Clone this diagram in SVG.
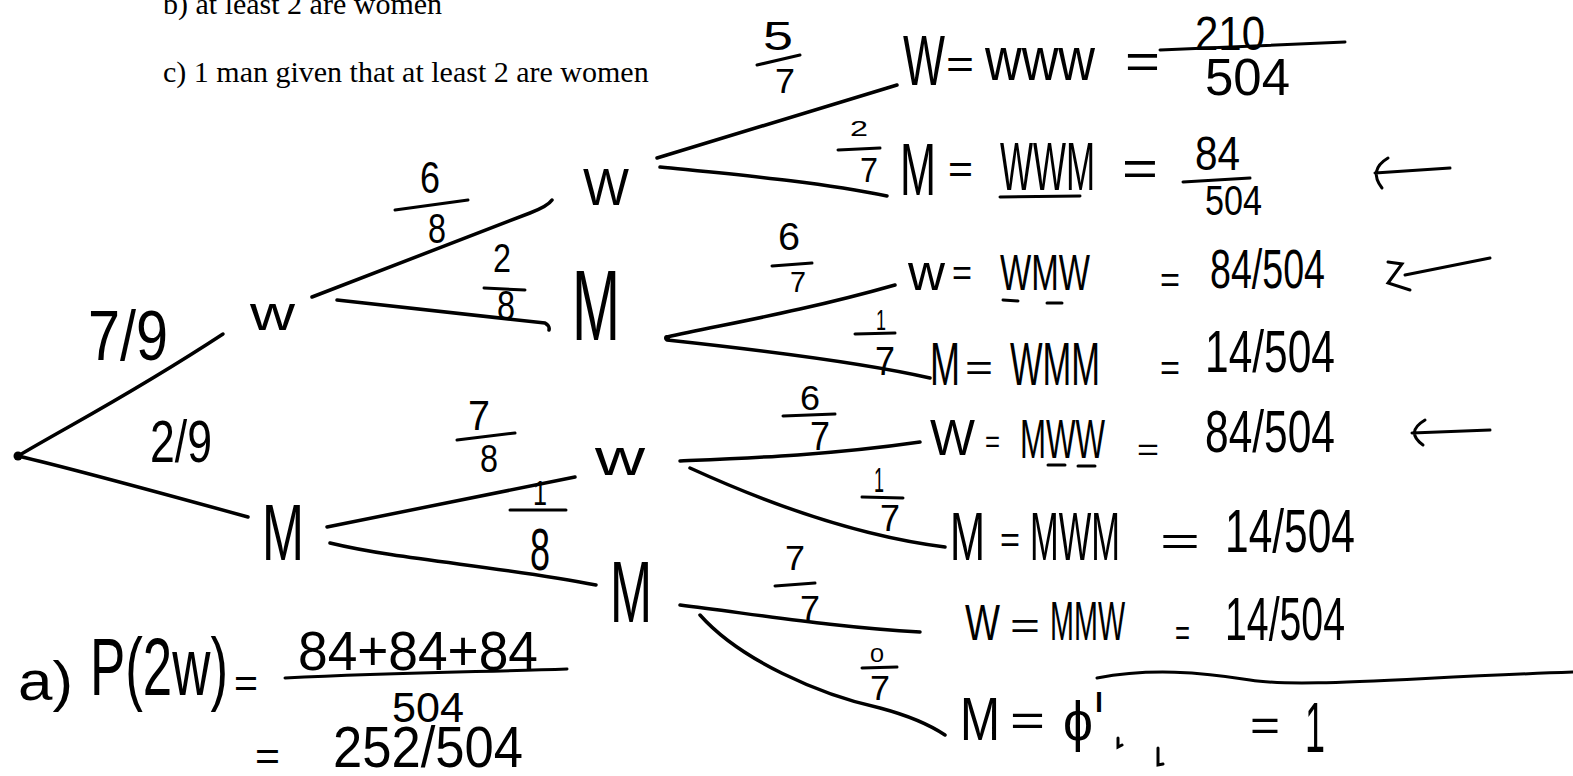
<svg xmlns="http://www.w3.org/2000/svg" width="1573" height="776" viewBox="0 0 1573 776">
<style>
.tx{font-family:"Liberation Serif","Times New Roman",serif;font-size:30px;fill:#000}
.hw{font-family:"Liberation Sans",Arial,sans-serif;fill:#000}
.br{fill:none;stroke:#000;stroke-width:3.5;stroke-linecap:round;stroke-linejoin:round}
.ln{fill:none;stroke:#000;stroke-width:3;stroke-linecap:round}
</style>
<rect width="1573" height="776" fill="#fff"/>
<g id="header">
<text class="tx" x="163" y="14">b) at least 2 are women</text>
<text class="tx" x="163" y="82">c) 1 man given that at least 2 are women</text>
</g>
<g id="connectors">
<path class="br" d="M18 456 C70 425 130 395 223 334"/>
<path class="br" d="M18 456 C70 468 150 490 248 517"/>
<path class="br" d="M312 297 L530 213 Q548 206 552 200"/>
<path class="br" d="M337 300 L545 323 Q550 326 549 330"/>
<path class="br" d="M327 527 L575 477"/>
<path class="br" d="M330 543 C400 560 500 566 596 585"/>
<path class="br" d="M657 158 L897 85"/>
<path class="br" d="M660 167 C740 175 820 182 887 196"/>
<path class="br" d="M667 337 C720 325 800 312 895 285"/>
<path class="br" d="M667 340 C760 350 860 362 930 378"/>
<path class="br" d="M680 461 C750 458 830 455 920 442"/>
<path class="br" d="M690 468 C760 500 850 535 945 547"/>
<path class="br" d="M680 605 C760 615 840 628 920 632"/>
<path class="br" d="M700 615 C740 660 820 695 880 708 C910 716 930 725 945 735"/>
<circle cx="18" cy="456" r="4.5"/>
<circle cx="667" cy="338" r="3"/>
</g>
<g id="label-l1">
<text class="hw" x="88" y="360" font-size="70" textLength="80" lengthAdjust="spacingAndGlyphs">7/9</text>
<text class="hw" x="150" y="462" font-size="60" textLength="62" lengthAdjust="spacingAndGlyphs">2/9</text>
</g>
<g id="node-w1"><text class="hw" x="250" y="330" font-size="48" textLength="45" lengthAdjust="spacingAndGlyphs">w</text></g>
<g id="node-m1"><text class="hw" x="262" y="560" font-size="80" textLength="42" lengthAdjust="spacingAndGlyphs">M</text></g>
<g id="label-l2">
<text class="hw" x="420" y="193" font-size="45" textLength="20" lengthAdjust="spacingAndGlyphs">6</text>
<path class="ln" d="M395 210 L468 200"/>
<text class="hw" x="428" y="243" font-size="42" textLength="18" lengthAdjust="spacingAndGlyphs">8</text>
<text class="hw" x="493" y="272" font-size="40" textLength="18" lengthAdjust="spacingAndGlyphs">2</text>
<path class="ln" d="M484 288 L525 290"/>
<text class="hw" x="497" y="320" font-size="42" textLength="18" lengthAdjust="spacingAndGlyphs">8</text>
<text class="hw" x="468" y="430" font-size="42" textLength="22" lengthAdjust="spacingAndGlyphs">7</text>
<path class="ln" d="M457 440 L515 433"/>
<text class="hw" x="480" y="472" font-size="38" textLength="18" lengthAdjust="spacingAndGlyphs">8</text>
<text class="hw" x="533" y="505" font-size="35" textLength="14" lengthAdjust="spacingAndGlyphs">1</text>
<path class="ln" d="M510 510 L566 510"/>
<text class="hw" x="530" y="570" font-size="60" textLength="20" lengthAdjust="spacingAndGlyphs">8</text>
</g>
<g id="node-w2"><text class="hw" x="583" y="205" font-size="52" textLength="46" lengthAdjust="spacingAndGlyphs">W</text></g>
<g id="node-m2"><text class="hw" x="572" y="340" font-size="100" textLength="48" lengthAdjust="spacingAndGlyphs">M</text></g>
<g id="node-w3"><text class="hw" x="595" y="475" font-size="50" textLength="50" lengthAdjust="spacingAndGlyphs">w</text></g>
<g id="node-m3"><text class="hw" x="610" y="622" font-size="88" textLength="42" lengthAdjust="spacingAndGlyphs">M</text></g>
<g id="label-l3">
<text class="hw" x="763" y="50" font-size="40" textLength="30" lengthAdjust="spacingAndGlyphs">5</text>
<path class="ln" d="M757 65 L800 55"/>
<text class="hw" x="775" y="93" font-size="35" textLength="20" lengthAdjust="spacingAndGlyphs">7</text>
<text class="hw" x="850" y="136" font-size="22" textLength="18" lengthAdjust="spacingAndGlyphs">2</text>
<path class="ln" d="M838 150 L880 148"/>
<text class="hw" x="860" y="182" font-size="35" textLength="18" lengthAdjust="spacingAndGlyphs">7</text>
<text class="hw" x="778" y="250" font-size="38" textLength="22" lengthAdjust="spacingAndGlyphs">6</text>
<path class="ln" d="M772 266 L812 263"/>
<text class="hw" x="790" y="292" font-size="30" textLength="16" lengthAdjust="spacingAndGlyphs">7</text>
<text class="hw" x="876" y="330" font-size="30" textLength="10" lengthAdjust="spacingAndGlyphs">1</text>
<path class="ln" d="M855 334 L895 333"/>
<text class="hw" x="875" y="375" font-size="40" textLength="20" lengthAdjust="spacingAndGlyphs">7</text>
<text class="hw" x="800" y="410" font-size="35" textLength="20" lengthAdjust="spacingAndGlyphs">6</text>
<path class="ln" d="M783 416 L835 414"/>
<text class="hw" x="810" y="450" font-size="40" textLength="20" lengthAdjust="spacingAndGlyphs">7</text>
<text class="hw" x="874" y="492" font-size="35" textLength="10" lengthAdjust="spacingAndGlyphs">1</text>
<path class="ln" d="M862 497 L903 498"/>
<text class="hw" x="880" y="531" font-size="36" textLength="20" lengthAdjust="spacingAndGlyphs">7</text>
<text class="hw" x="785" y="570" font-size="35" textLength="20" lengthAdjust="spacingAndGlyphs">7</text>
<path class="ln" d="M775 586 L815 583"/>
<text class="hw" x="800" y="620" font-size="35" textLength="20" lengthAdjust="spacingAndGlyphs">7</text>
<text class="hw" x="870" y="662" font-size="20" textLength="14" lengthAdjust="spacingAndGlyphs">0</text>
<path class="ln" d="M862 668 L897 667"/>
<text class="hw" x="870" y="700" font-size="35" textLength="20" lengthAdjust="spacingAndGlyphs">7</text>
</g>
<g id="row1">
<text class="hw" x="903" y="85" font-size="70" textLength="42" lengthAdjust="spacingAndGlyphs">W</text>
<text class="hw" x="946" y="78" font-size="40" textLength="28" lengthAdjust="spacingAndGlyphs">=</text>
<text class="hw" x="985" y="80" font-size="62" textLength="110" lengthAdjust="spacingAndGlyphs">www</text>
<text class="hw" x="1125" y="78" font-size="50" textLength="35" lengthAdjust="spacingAndGlyphs">=</text>
<text class="hw" x="1195" y="50" font-size="48" textLength="70" lengthAdjust="spacingAndGlyphs">210</text>
<path class="ln" d="M1160 50 L1345 42"/>
<text class="hw" x="1205" y="95" font-size="52" textLength="85" lengthAdjust="spacingAndGlyphs">504</text>
</g>
<g id="row2">
<text class="hw" x="900" y="195" font-size="75" textLength="36" lengthAdjust="spacingAndGlyphs">M</text>
<text class="hw" x="948" y="183" font-size="40" textLength="25" lengthAdjust="spacingAndGlyphs">=</text>
<text class="hw" x="1000" y="190" font-size="68" textLength="95" lengthAdjust="spacingAndGlyphs">WWM</text>
<path class="ln" d="M1000 197 L1080 196"/>
<text class="hw" x="1122" y="185" font-size="50" textLength="36" lengthAdjust="spacingAndGlyphs">=</text>
<text class="hw" x="1195" y="170" font-size="48" textLength="45" lengthAdjust="spacingAndGlyphs">84</text>
<path class="ln" d="M1183 182 L1250 178"/>
<text class="hw" x="1205" y="215" font-size="42" textLength="57" lengthAdjust="spacingAndGlyphs">504</text>
<path class="ln" d="M1450 168 L1375 173 M1388 158 Q1368 170 1382 188"/>
</g>
<g id="row3">
<text class="hw" x="908" y="290" font-size="50" textLength="37" lengthAdjust="spacingAndGlyphs">w</text>
<text class="hw" x="952" y="285" font-size="36" textLength="20" lengthAdjust="spacingAndGlyphs">=</text>
<text class="hw" x="1000" y="290" font-size="50" textLength="90" lengthAdjust="spacingAndGlyphs">WMW</text>
<path class="ln" d="M1003 300 L1018 301 M1047 303 L1062 303"/>
<text class="hw" x="1160" y="292" font-size="36" textLength="20" lengthAdjust="spacingAndGlyphs">=</text>
<text class="hw" x="1210" y="288" font-size="55" textLength="115" lengthAdjust="spacingAndGlyphs">84/504</text>
<path class="ln" d="M1490 258 L1405 275 M1388 262 L1402 264 L1388 283 L1410 290"/>
</g>
<g id="row4">
<text class="hw" x="930" y="385" font-size="62" textLength="30" lengthAdjust="spacingAndGlyphs">M</text>
<text class="hw" x="965" y="380" font-size="36" textLength="28" lengthAdjust="spacingAndGlyphs">=</text>
<text class="hw" x="1010" y="385" font-size="62" textLength="90" lengthAdjust="spacingAndGlyphs">WMM</text>
<text class="hw" x="1160" y="380" font-size="36" textLength="20" lengthAdjust="spacingAndGlyphs">=</text>
<text class="hw" x="1205" y="372" font-size="60" textLength="130" lengthAdjust="spacingAndGlyphs">14/504</text>
</g>
<g id="row5">
<text class="hw" x="930" y="455" font-size="50" textLength="45" lengthAdjust="spacingAndGlyphs">W</text>
<text class="hw" x="985" y="452" font-size="32" textLength="15" lengthAdjust="spacingAndGlyphs">=</text>
<text class="hw" x="1020" y="458" font-size="55" textLength="85" lengthAdjust="spacingAndGlyphs">MWW</text>
<path class="ln" d="M1048 465 L1065 465 M1078 466 L1095 466"/>
<text class="hw" x="1137" y="460" font-size="32" textLength="22" lengthAdjust="spacingAndGlyphs">=</text>
<text class="hw" x="1205" y="452" font-size="60" textLength="130" lengthAdjust="spacingAndGlyphs">84/504</text>
<path class="ln" d="M1490 430 L1412 433 M1425 420 Q1405 432 1423 445"/>
</g>
<g id="row6">
<text class="hw" x="950" y="560" font-size="68" textLength="35" lengthAdjust="spacingAndGlyphs">M</text>
<text class="hw" x="1000" y="552" font-size="36" textLength="20" lengthAdjust="spacingAndGlyphs">=</text>
<text class="hw" x="1030" y="560" font-size="68" textLength="90" lengthAdjust="spacingAndGlyphs">MWM</text>
<text class="hw" x="1160" y="555" font-size="40" textLength="40" lengthAdjust="spacingAndGlyphs">=</text>
<text class="hw" x="1225" y="552" font-size="62" textLength="130" lengthAdjust="spacingAndGlyphs">14/504</text>
</g>
<g id="row7">
<text class="hw" x="965" y="640" font-size="50" textLength="35" lengthAdjust="spacingAndGlyphs">W</text>
<text class="hw" x="1010" y="638" font-size="36" textLength="30" lengthAdjust="spacingAndGlyphs">=</text>
<text class="hw" x="1050" y="640" font-size="55" textLength="75" lengthAdjust="spacingAndGlyphs">MMW</text>
<text class="hw" x="1175" y="645" font-size="36" textLength="15" lengthAdjust="spacingAndGlyphs">=</text>
<text class="hw" x="1225" y="640" font-size="62" textLength="120" lengthAdjust="spacingAndGlyphs">14/504</text>
</g>
<g id="row8">
<text class="hw" x="960" y="740" font-size="62" textLength="40" lengthAdjust="spacingAndGlyphs">M</text>
<text class="hw" x="1010" y="735" font-size="45" textLength="35" lengthAdjust="spacingAndGlyphs">=</text>
<text class="hw" x="1063" y="740" font-size="55" textLength="30" lengthAdjust="spacingAndGlyphs">ϕ</text>
<text class="hw" x="1094" y="712" font-size="28" textLength="10" lengthAdjust="spacingAndGlyphs">l</text>
<path class="ln" d="M1118 738 L1118 747 L1122 745 M1158 748 L1158 765 L1163 764"/>
<path class="ln" d="M1097 678 C1150 668 1200 672 1250 680 C1300 688 1400 678 1573 672"/>
<text class="hw" x="1250" y="740" font-size="45" textLength="30" lengthAdjust="spacingAndGlyphs">=</text>
<text class="hw" x="1305" y="752" font-size="70" textLength="20" lengthAdjust="spacingAndGlyphs">1</text>
</g>
<g id="answer-a">
<text class="hw" x="18" y="700" font-size="55" textLength="55" lengthAdjust="spacingAndGlyphs">a)</text>
<text class="hw" x="90" y="695" font-size="82" textLength="138" lengthAdjust="spacingAndGlyphs">P(2w)</text>
<text class="hw" x="234" y="697" font-size="40" textLength="24" lengthAdjust="spacingAndGlyphs">=</text>
<text class="hw" x="298" y="670" font-size="55" textLength="240" lengthAdjust="spacingAndGlyphs">84+84+84</text>
<path class="ln" d="M285 678 C400 672 480 672 567 669"/>
<text class="hw" x="392" y="722" font-size="42" textLength="72" lengthAdjust="spacingAndGlyphs">504</text>
<text class="hw" x="255" y="770" font-size="40" textLength="25" lengthAdjust="spacingAndGlyphs">=</text>
<text class="hw" x="333" y="767" font-size="58" textLength="190" lengthAdjust="spacingAndGlyphs">252/504</text>
</g>
</svg>
